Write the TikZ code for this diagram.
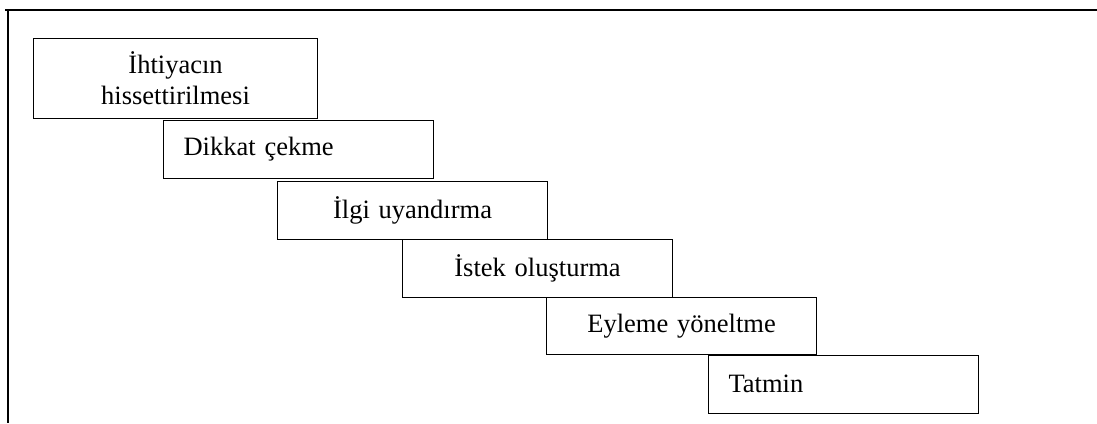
\documentclass[tikz,border=0pt]{standalone}
\usepackage{fontspec}
\setmainfont{Liberation Serif}
\tikzset{
    stairbox/.style={draw, line width=1.1pt, anchor=north west, inner xsep=0pt, inner ysep=0pt,
        minimum width=270pt, minimum height=57.5pt, font=\fontsize{26.5}{31}\selectfont},
    leftbox/.style={stairbox, text width=230pt, inner xsep=20pt, align=left},
    midbox/.style={stairbox, text width=270pt, align=center}
}
\begin{document}
\begin{tikzpicture}[x=1pt, y=-1pt]
        \useasboundingbox (0,0) rectangle (1097,423);

        % Frame
        \draw [line width=2pt] (5, 10) -- (1097, 10);
        \draw [line width=2pt] (8, 10) -- (8, 423);

        % Steps
        \node [midbox, text width=284pt, minimum height=80pt] (ihtiyac) at (33, 38) {İhtiyacın\\hissettirilmesi};
        \node [leftbox] (dikkat) at (163, 120) {Dikkat çekme};
        \node [midbox] (ilgi) at (277, 181) {İlgi uyandırma};
        \node [midbox] (istek) at (402, 239) {İstek oluşturma};
        \node [midbox] (eylem) at (546, 296.5) {Eyleme yöneltme};
        \node [leftbox] (tatmin) at (708, 355) {Tatmin};
    \end{tikzpicture}
\end{document}
